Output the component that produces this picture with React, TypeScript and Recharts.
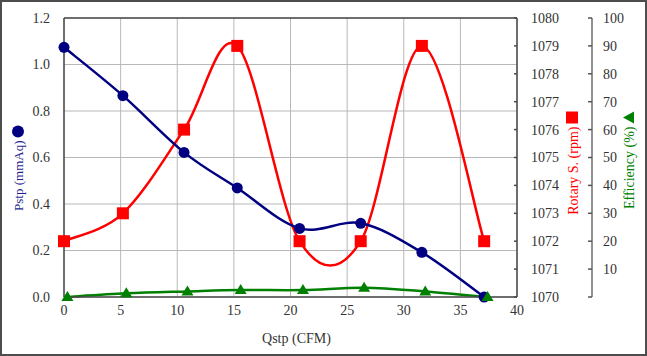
import React from 'react'
import {
  ComposedChart,
  Line,
  XAxis,
  YAxis,
  CartesianGrid,
  ReferenceLine,
} from 'recharts'

// Qstp (CFM) for the pressure / rpm readings
const qstp = [0, 5.2, 10.6, 15.3, 20.8, 26.2, 31.6, 37.1]
// efficiency readings were logged at slightly shifted flow points
const qstpEff = [0.3, 5.5, 10.9, 15.6, 21.1, 26.5, 31.9, 37.4]

const pstp = [1.074, 0.866, 0.622, 0.469, 0.295, 0.317, 0.192, 0.0]
const rotary = [1072, 1073, 1076, 1079, 1072, 1072, 1079, 1072]
const efficiency = [0, 1.3, 2.0, 2.5, 2.5, 3.3, 2.0, 0]

const xTicks = [0, 5, 10, 15, 20, 25, 30, 35, 40]
const pTicks = [0, 0.2, 0.4, 0.6, 0.8, 1.0, 1.2]
const rTicks = [1070, 1071, 1072, 1073, 1074, 1075, 1076, 1077, 1078, 1079, 1080]
const eTicks = [0, 10, 20, 30, 40, 50, 60, 70, 80, 90, 100]

const NAVY = '#000080'
const RED = '#ff0000'
const GREEN = '#008000'
const AXIS = '#4a4a4a'
const TEXT = '#333333'
const FONT = '"Liberation Serif", "Times New Roman", serif'

const pData = qstp.map((q, i) => ({ q, pstp: pstp[i] }))
const rData = qstp.map((q, i) => ({ q, rpm: rotary[i] }))
const eData = qstpEff.map((q, i) => ({ q, eff: efficiency[i] }))

// Excel-like smoothed line (catmull-rom style bezier through every point)
function excelSmooth(context: any) {
  let pts: number[][] = []
  return {
    areaStart() {},
    areaEnd() {},
    lineStart() {
      pts = []
    },
    point(x: number, y: number) {
      pts.push([+x, +y])
    },
    lineEnd() {
      const n = pts.length
      if (!n) return
      context.moveTo(pts[0][0], pts[0][1])
      const k = 1 / 6
      for (let i = 0; i < n - 1; i++) {
        const p0 = pts[Math.max(i - 1, 0)]
        const p1 = pts[i]
        const p2 = pts[i + 1]
        const p3 = pts[Math.min(i + 2, n - 1)]
        context.bezierCurveTo(
          p1[0] + (p2[0] - p0[0]) * k,
          p1[1] + (p2[1] - p0[1]) * k,
          p2[0] - (p3[0] - p1[0]) * k,
          p2[1] - (p3[1] - p1[1]) * k,
          p2[0],
          p2[1]
        )
      }
    },
  }
}

const SquareDot = (props: any) => {
  const { cx, cy, index } = props
  return <rect key={`sq-${index}`} x={cx - 6} y={cy - 6} width={12} height={12} fill={RED} />
}

const TriangleDot = (props: any) => {
  const { cx, cy, index } = props
  return (
    <polygon
      key={`tr-${index}`}
      points={`${cx},${cy - 6} ${cx + 6},${cy + 4} ${cx - 6},${cy + 4}`}
      fill={GREEN}
    />
  )
}

const CircleDot = (props: any) => {
  const { cx, cy, index } = props
  return <circle key={`ci-${index}`} cx={cx} cy={cy} r={5.5} fill={NAVY} />
}

// right-hand tick: short mark pointing back toward the plot, label to the right
const RightTick = (props: any) => {
  const { x, y, payload, gap, len, stroke, hideZero } = props
  const showLabel = !(hideZero && payload.value === 0)
  return (
    <g>
      <line x1={x - gap - len} x2={x - gap} y1={y} y2={y} stroke={stroke} strokeWidth={1.5} />
      {showLabel && (
        <text x={x} y={y} dy="0.35em" textAnchor="start" fill={TEXT} fontSize={14} fontFamily={FONT}>
          {payload.value}
        </text>
      )}
    </g>
  )
}

const rpmTick = (p: any) => <RightTick {...p} gap={14} len={3} stroke={AXIS} />
const effTick = (p: any) => <RightTick {...p} gap={11} len={4} stroke="#555" hideZero />
const fmtP = (v: number) => v.toFixed(1)

const LeftTitle = (props: any) => {
  const { viewBox } = props
  const cx = viewBox.x + 18
  const mid = viewBox.y + viewBox.height / 2
  const end = mid - 17
  return (
    <g>
      <text
        x={cx}
        y={end}
        transform={`rotate(-90, ${cx}, ${end})`}
        textAnchor="end"
        dominantBaseline="central"
        fill="#1f1f8f"
        fontSize={13}
        fontFamily={FONT}
      >
        Pstp (mmAq)
      </text>
      <circle cx={cx} cy={mid - 26} r={6} fill={NAVY} />
    </g>
  )
}

const RpmTitle = (props: any) => {
  const { viewBox } = props
  const cx = viewBox.x + 56
  const mid = viewBox.y + viewBox.height / 2
  const end = mid - 31
  return (
    <g>
      <text
        x={cx}
        y={end}
        transform={`rotate(-90, ${cx}, ${end})`}
        textAnchor="end"
        dominantBaseline="central"
        fill={RED}
        fontSize={14}
        fontFamily={FONT}
      >
        Rotary S. (rpm)
      </text>
      <rect x={cx - 7} y={mid - 46} width={12} height={12} fill={RED} />
    </g>
  )
}

const EffTitle = (props: any) => {
  const { viewBox } = props
  const cx = viewBox.x + 37
  const mid = viewBox.y + viewBox.height / 2
  const end = mid - 31
  return (
    <g>
      <text
        x={cx}
        y={end}
        transform={`rotate(-90, ${cx}, ${end})`}
        textAnchor="end"
        dominantBaseline="central"
        fill={GREEN}
        fontSize={14}
        fontFamily={FONT}
      >
        Efficiency (%)
      </text>
      <polygon
        points={`${cx - 6},${mid - 40} ${cx + 5},${mid - 46} ${cx + 5},${mid - 34}`}
        fill={GREEN}
      />
    </g>
  )
}

const XTitle = (props: any) => {
  const { viewBox } = props
  const cx = viewBox.x + viewBox.width / 2 + 6
  return (
    <text
      x={cx}
      y={viewBox.y + 41}
      textAnchor="middle"
      dominantBaseline="central"
      fill={TEXT}
      fontSize={14}
      fontFamily={FONT}
    >
      Qstp (CFM)
    </text>
  )
}

export default function App() {
  return (
    <div style={{ position: 'fixed', left: 0, top: 0, width: 647, height: 356, background: '#fff' }}>
      <ComposedChart width={647} height={356} margin={{ top: 18, right: 0, bottom: 0, left: 0 }}>
        <CartesianGrid yAxisId="p" stroke="#b8b8b8" strokeWidth={1} />
        <XAxis
          dataKey="q"
          type="number"
          domain={[0, 40]}
          ticks={xTicks}
          allowDuplicatedCategory={false}
          height={59}
          tickSize={0}
          tickMargin={8}
          tick={{ fill: TEXT, fontSize: 14, fontFamily: FONT }}
          axisLine={{ stroke: AXIS, strokeWidth: 1.5 }}
          label={<XTitle />}
        />
        <YAxis
          yAxisId="p"
          domain={[0, 1.2]}
          ticks={pTicks}
          width={64}
          tickSize={0}
          tickMargin={14}
          tickFormatter={fmtP}
          tick={{ fill: TEXT, fontSize: 14, fontFamily: FONT }}
          axisLine={{ stroke: AXIS, strokeWidth: 1.5 }}
          label={<LeftTitle />}
        />
        <YAxis
          yAxisId="a_rpm"
          orientation="right"
          domain={[1070, 1080]}
          ticks={rTicks}
          width={75}
          tickSize={0}
          tickMargin={14}
          tickLine={false}
          tick={rpmTick}
          axisLine={{ stroke: AXIS, strokeWidth: 1.5 }}
          label={<RpmTitle />}
        />
        <YAxis
          yAxisId="z_eff"
          orientation="right"
          domain={[0, 100]}
          ticks={eTicks}
          width={55}
          tickSize={0}
          tickMargin={11}
          tickLine={false}
          tick={effTick}
          axisLine={{ stroke: '#6e6e6e', strokeWidth: 1.5 }}
          label={<EffTitle />}
        />
        <ReferenceLine yAxisId="p" y={1.2} stroke={AXIS} strokeWidth={1.5} />
        <Line
          yAxisId="a_rpm"
          data={rData}
          dataKey="rpm"
          type={excelSmooth as any}
          stroke={RED}
          strokeWidth={2.5}
          dot={SquareDot}
          activeDot={false}
          isAnimationActive={false}
        />
        <Line
          yAxisId="p"
          data={pData}
          dataKey="pstp"
          type={excelSmooth as any}
          stroke={NAVY}
          strokeWidth={2.5}
          dot={CircleDot}
          activeDot={false}
          isAnimationActive={false}
        />
        <Line
          yAxisId="z_eff"
          data={eData}
          dataKey="eff"
          type={excelSmooth as any}
          stroke={GREEN}
          strokeWidth={2.5}
          dot={TriangleDot}
          activeDot={false}
          isAnimationActive={false}
        />
      </ComposedChart>
      <div
        style={{
          position: 'absolute',
          left: 0,
          top: 0,
          width: 647,
          height: 356,
          boxSizing: 'border-box',
          border: '2px solid #4d4d4d',
          pointerEvents: 'none',
        }}
      />
    </div>
  )
}
